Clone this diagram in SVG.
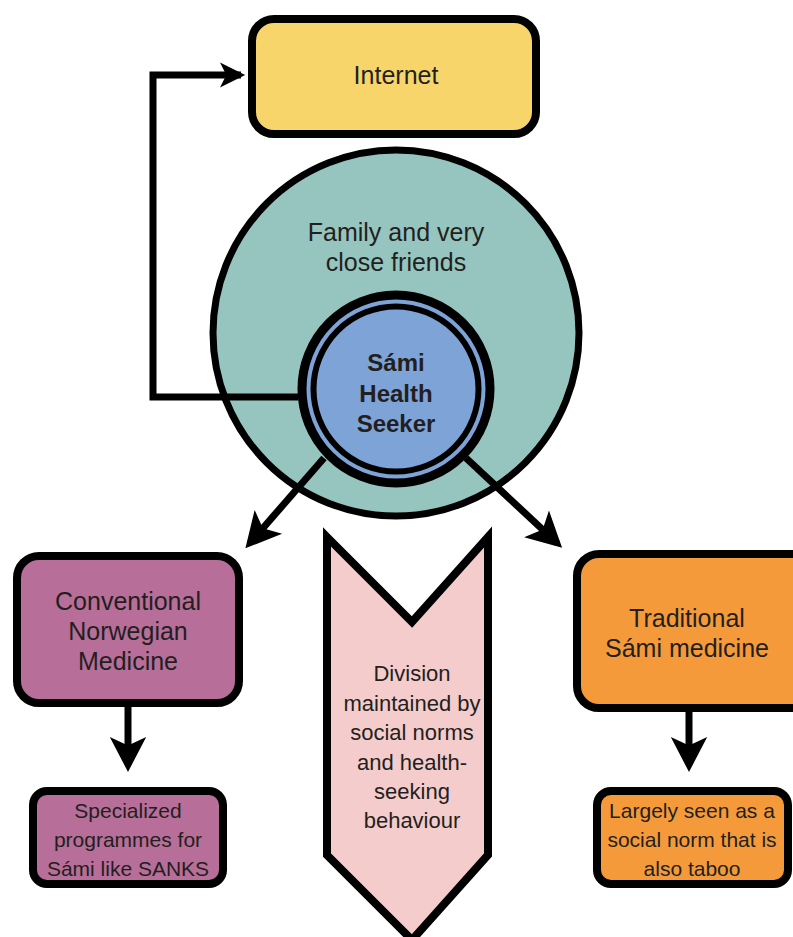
<svg xmlns="http://www.w3.org/2000/svg" width="793" height="937" viewBox="0 0 793 937">
<style>
.t{font-family:"Liberation Sans",Arial,sans-serif;fill:#231f20;text-anchor:middle;dominant-baseline:central}
.box{stroke:#000;stroke-width:8}
.con{stroke:#000;stroke-width:7;fill:none}
</style>
<defs>
<marker id="ah" markerWidth="6" markerHeight="6" refX="4" refY="3" orient="auto" markerUnits="strokeWidth" overflow="visible">
<path d="M0,0.4 L5,3 L0,5.6 L1.2,3 Z" fill="#000"/>
</marker>
<marker id="ahs" markerWidth="4" markerHeight="4" refX="3" refY="2" orient="auto" markerUnits="strokeWidth" overflow="visible">
<path d="M0,0.2 L3.6,2 L0,3.8 L0.9,2 Z" fill="#000"/>
</marker>
</defs>
<rect width="793" height="937" fill="#fff"/>
<g id="division">
<path d="M327,537 L412,622 L488,537 L488,855 L412,940 L327,855 Z" fill="#f4cccc" stroke="#000" stroke-width="8" stroke-linejoin="miter"/>
<text class="t" font-size="22"><tspan x="412" y="673">Division</tspan><tspan x="412" y="703">maintained by</tspan><tspan x="412" y="732">social norms</tspan><tspan x="412" y="762">and health-</tspan><tspan x="412" y="791">seeking</tspan><tspan x="412" y="820">behaviour</tspan></text>
</g>
<g id="family">
<circle cx="396" cy="333" r="183" fill="#96c5bf" stroke="#000" stroke-width="7"/>
<text class="t" font-size="25"><tspan x="396" y="232">Family and very</tspan><tspan x="396" y="262">close friends</tspan></text>
</g>
<g id="connectors">
<path class="con" d="M298,397 L153,397 L153,75 L241,75" marker-end="url(#ahs)"/>
<path class="con" d="M324,458 L250,543" marker-end="url(#ah)"/>
<path class="con" d="M466,458 L557,543" marker-end="url(#ah)"/>
<path class="con" d="M128,707 L128,765" marker-end="url(#ah)"/>
<path class="con" d="M689,712 L689,765" marker-end="url(#ah)"/>
</g>
<g id="seeker">
<circle cx="396" cy="389" r="94" fill="#7ea3d6" stroke="#000" stroke-width="9"/>
<circle cx="396" cy="389" r="82.5" fill="#7ea3d6" stroke="#000" stroke-width="6"/>
<text class="t" font-size="24" font-weight="bold"><tspan x="396" y="362">Sámi</tspan><tspan x="396" y="393">Health</tspan><tspan x="396" y="423">Seeker</tspan></text>
</g>
<g id="internet">
<rect class="box" x="252" y="19" width="284" height="115" rx="22" fill="#f7d56a"/>
<text class="t" font-size="25" x="396" y="75">Internet</text>
</g>
<g id="conventional">
<rect class="box" x="17" y="556" width="222" height="147" rx="22" fill="#b76e99"/>
<text class="t" font-size="25"><tspan x="128" y="601">Conventional</tspan><tspan x="128" y="631">Norwegian</tspan><tspan x="128" y="661">Medicine</tspan></text>
</g>
<g id="specialized">
<rect class="box" x="33" y="791" width="190" height="93" rx="14" fill="#b76e99"/>
<text class="t" font-size="21"><tspan x="128" y="810">Specialized</tspan><tspan x="128" y="839">programmes for</tspan><tspan x="128" y="868">Sámi like SANKS</tspan></text>
</g>
<g id="traditional">
<rect class="box" x="577" y="554" width="240" height="154" rx="22" fill="#f59a3b"/>
<text class="t" font-size="25"><tspan x="687" y="618">Traditional</tspan><tspan x="687" y="648">Sámi medicine</tspan></text>
</g>
<g id="taboo">
<rect class="box" x="597" y="791" width="191" height="93" rx="14" fill="#f59a3b"/>
<text class="t" font-size="21"><tspan x="692" y="810">Largely seen as a</tspan><tspan x="692" y="839">social norm that is</tspan><tspan x="692" y="868">also taboo</tspan></text>
</g>
</svg>
